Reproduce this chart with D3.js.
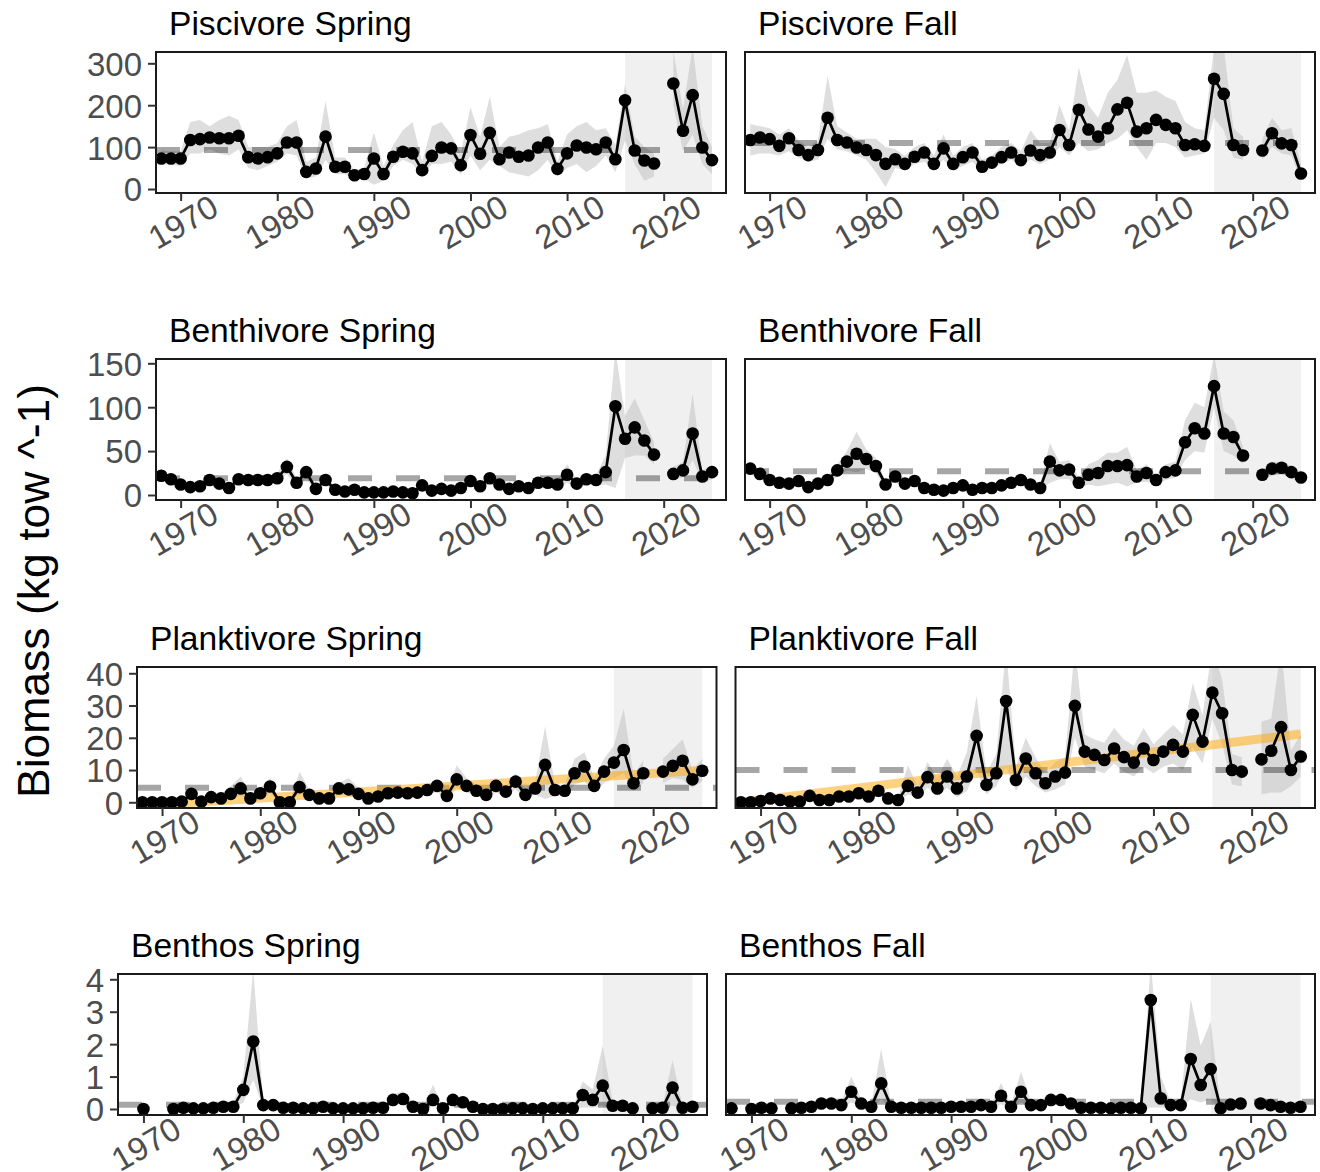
<!DOCTYPE html>
<html lang="en">
<head>
<meta charset="utf-8">
<title>Biomass by feeding guild</title>
<style>
  body { margin: 0; background: #fff; }
  svg { display: block; font-family: "Liberation Sans", Arial, sans-serif; }
  .ttl { font-size: 33.6px; fill: #000; }
  .ytitle { font-size: 44.5px; fill: #000; }
  .axis text { font-size: 33px; fill: #4d4d4d; }
  .axis line { stroke: #333; stroke-width: 2; }
  .axis path { display: none; }
</style>
</head>
<body>
<svg width="1320" height="1172"></svg>
<script src="https://cdn.jsdelivr.net/npm/d3@7/dist/d3.min.js"></script>
<script>

// survey years (2020 had no survey)
var years = [1968,1969,1970,1971,1972,1973,1974,1975,1976,1977,
             1978,1979,1980,1981,1982,1983,1984,1985,1986,1987,
             1988,1989,1990,1991,1992,1993,1994,1995,1996,1997,
             1998,1999,2000,2001,2002,2003,2004,2005,2006,2007,
             2008,2009,2010,2011,2012,2013,2014,2015,2016,2017,
             2018,2019,2020,2021,2022,2023,2024,2025];

var xTicks = [1970, 1980, 1990, 2000, 2010, 2020];
var shadeYears = [2016, 2025];

// Piscivore
var pisSpr   = [73,73,73,117,119,123,121,121,127,76, 73,76,85,111,111,41,49,125,53,53, 33,36,73,36,77,89,85,45,79,99, 97,57,129,84,134,71,87,77,80,99, 111,48,85,104,99,95,111,71,212,92, 68,61,null,252,139,224,99,69];
var pisSprLo = [58,58,55,85,85,95,85,80,95,50, 45,55,65,85,80,25,30,70,35,35, 25,25,10,20,55,70,60,30,60,60, 65,35,80,45,70,55,40,35,30,45, 70,30,50,60,40,55,80,40,115,60, 20,30,null,200,90,130,60,35];
var pisSprHi = [92,90,90,160,165,150,165,175,165,100, 100,100,110,150,165,65,75,210,75,75, 45,50,135,55,105,140,160,65,150,160, 130,85,195,125,220,100,125,130,140,145, 155,65,130,150,160,140,145,105,250,125, 100,85,null,330,190,340,150,100];
var pisFall   = [117,123,119,103,121,93,81,93,170,117, 111,99,93,81,60,71,60,77,87,60, 97,60,76,87,53,63,76,87,69,92, 81,87,141,105,189,142,125,145,190,206, 137,145,165,153,145,105,107,103,263,227, 105,93,null,92,133,109,105,37];
var pisFallLo = [80,85,85,80,90,75,65,70,120,95, 90,80,70,40,5,50,45,60,65,50, 70,45,55,65,40,50,60,70,55,70, 60,70,100,80,110,90,95,110,120,140, 100,70,110,110,100,75,80,85,170,140, 75,70,null,70,100,85,80,20];
var pisFallHi = [155,150,145,130,145,115,100,115,270,150, 135,120,120,120,100,95,80,100,110,80, 130,80,100,110,70,80,100,110,90,140, 110,110,200,140,290,200,170,230,260,320, 230,230,235,220,210,160,145,140,340,340, 145,125,null,120,170,140,145,60];

// Benthivore
var benSpr   = [22,18,12,9,10,17,13,8,18,17, 17,17,19,32,14,26,7,17,6,4, 6,3,3,3,4,3,2,11,5,7, 5,8,16,10,19,12,7,10,8,14, 14,12,23,13,18,17,26,101,64,77, 62,46,null,24,28,70,21,26];
var benSprLo = [17,14,8,6,7,12,9,5,13,12, 12,12,14,24,9,19,4,12,3,2, 3,1,1,1,2,1,1,7,3,4, 3,5,11,6,13,8,4,6,5,9, 9,7,14,8,12,11,12,8,42,45, 45,35,null,17,20,40,15,18];
var benSprHi = [27,22,16,12,13,22,17,11,23,22, 22,22,25,42,19,34,10,22,9,6, 9,5,5,5,6,5,4,15,7,10, 7,11,21,14,25,16,10,14,11,19, 19,17,35,18,24,23,45,165,90,110, 85,60,null,32,38,115,28,34];
var benFall   = [30,24,17,14,13,16,9,13,17,28, 38,47,41,33,12,21,13,16,8,6, 5,8,11,6,8,8,11,14,17,12, 8,38,28,29,14,23,25,33,33,34, 21,25,17,26,28,60,76,70,124,70, 66,45,null,23,30,31,26,20];
var benFallLo = [24,19,13,10,9,12,6,9,13,21, 28,26,30,25,8,16,9,12,5,3, 3,5,7,3,5,5,7,10,12,8, 5,14,18,18,8,12,10,12,14,10, 14,15,12,17,20,40,50,48,100,50, 45,35,null,17,22,24,19,14];
var benFallHi = [36,29,21,18,17,21,12,17,22,35, 50,72,52,42,16,27,17,21,11,9, 7,11,15,9,11,11,15,19,22,16, 11,59,38,40,20,35,40,48,48,55, 28,35,23,35,38,85,105,100,160,95, 85,55,null,29,38,38,33,26];

// Planktivore
var plaSpr   = [0,0,0,0,0.2,2.6,0.2,1.6,1.2,2.6, 4.3,1.2,2.8,4.9,0,0,4.7,2.3,1.2,1.2, 4.3,4.0,2.6,1.2,1.8,2.8,3.0,2.8,3.0,3.8, 5.1,2.0,7.1,5.1,3.6,2.3,5.1,3.3,6.4,2.3, 4.3,11.6,3.8,3.6,9.0,11.1,5.1,9.5,12.3,16.2, 5.9,9.0,null,9.5,11.3,12.9,7.1,9.8];
var plaSprLo = [0,0,0,0,0,1.0,0,0.6,0.4,1.2, 2.0,0.4,1.4,2.8,0,0,2.5,1.0,0.4,0.4, 2.5,2.2,1.2,0.4,0.8,1.6,1.8,1.6,1.8,2.2, 3.2,0.8,4.5,3.0,2.0,1.0,3.0,1.8,4.0,1.0, 2.4,1.0,2.0,2.0,5.5,6.5,3.0,6.0,7.5,9.0, 3.5,6.0,null,6.0,7.5,7.0,4.5,6.5];
var plaSprHi = [0.3,0.3,0.3,0.3,0.6,4.5,0.6,3.0,2.5,5.0, 8.0,2.5,4.5,7.5,0.3,0.3,9.5,4.0,2.5,2.5, 6.0,7.5,4.5,2.5,3.0,4.5,4.5,4.5,4.5,5.5, 7.0,3.5,11.5,7.5,5.5,4.0,7.5,5.0,9.0,4.0, 6.5,23.5,5.5,5.5,13.5,15.5,7.5,13.5,17.5,29.0, 8.5,13.0,null,13.5,16.5,19.5,10.0,13.5];
var plaFall   = [0,0,0.4,1.2,0.7,0.2,0.2,2.0,0.7,0.7, 1.8,1.8,2.8,1.8,3.6,1.2,0.7,5.1,3.0,7.8, 4.3,8.0,4.3,8.0,20.6,5.4,9.0,31.4,6.9,13.6, 9.0,5.9,8.0,9.2,29.9,15.7,14.7,13.1,16.7,14.0, 12.3,16.7,13.1,15.7,17.8,15.7,27.1,18.8,34.0,27.6, 10.0,9.5,null,13.3,16.0,23.3,10.0,14.2];
var plaFallLo = [0,0,0,0.4,0.2,0,0,1.0,0.2,0.2, 0.8,0.8,1.5,0.8,2.0,0.4,0.2,2.5,1.5,4.5, 2.0,4.5,1.5,3.5,10.0,2.5,5.0,11.0,3.5,8.0, 5.0,3.0,4.0,5.5,20.0,11.0,10.0,9.0,12.0,9.5, 8.0,11.0,9.0,11.0,12.0,10.0,17.0,12.0,26.0,18.0, 5.5,5.0,null,2.5,3.0,3.0,5.0,8.0];
var plaFallHi = [0.3,0.3,1.0,2.2,1.4,0.6,0.6,3.5,1.4,1.4, 3.0,3.0,4.5,3.0,5.5,2.2,1.4,11.5,5.0,12.5, 7.5,13.5,8.0,15.5,33.0,9.0,15.0,48.0,11.0,20.0, 14.0,9.0,12.5,14.0,48.0,21.0,19.5,18.5,23.0,19.5, 17.5,23.0,18.0,21.0,24.0,21.0,37.0,27.0,48.0,38.0, 15.0,14.0,null,25.0,26.0,48.0,16.0,21.0];

// Benthos
var bthSpr   = [null,null,0,null,null,0,0.04,0.02,0.02,0.04, 0.07,0.07,0.59,2.08,0.12,0.12,0.04,0.04,0.02,0.02, 0.07,0.02,0.02,0.02,0.02,0.04,0.04,0.28,0.31,0.07, 0,0.28,0.02,0.28,0.21,0.07,0,0,0,0.02, 0.02,0,0.02,0.02,0.02,0.02,0.43,0.28,0.72,0.1, 0.1,0.02,null,0.02,0.04,0.66,0.04,0.07];
var bthSprLo = [null,null,0,null,null,0,0,0,0,0, 0,0,0.2,0.9,0.03,0.03,0,0,0,0, 0,0,0,0,0,0,0,0.15,0.15,0, 0,0.1,0,0.15,0.1,0,0,0,0,0, 0,0,0,0,0,0,0.05,0.05,0.1,0.02, 0.02,0,null,0,0,0.1,0,0.02];
var bthSprHi = [null,null,0.05,null,null,0.05,0.1,0.06,0.06,0.1, 0.2,0.2,1.0,4.3,0.25,0.25,0.1,0.1,0.06,0.06, 0.15,0.06,0.06,0.06,0.06,0.1,0.1,0.45,0.55,0.2, 0.05,0.75,0.06,0.45,0.35,0.15,0.03,0.03,0.03,0.06, 0.06,0.03,0.06,0.06,0.06,0.06,0.85,0.6,1.95,0.25, 0.25,0.06,null,0.06,0.1,1.5,0.1,0.15];
var bthFall   = [0.02,null,0,0.04,0.02,null,0.02,0.04,0.07,0.17, 0.17,0.12,0.53,0.17,0.07,0.79,0.07,0.04,0.04,0.04, 0.04,0.04,0.07,0.07,0.07,0.12,0.07,0.41,0.07,0.53, 0.12,0.12,0.28,0.28,0.17,0.04,0.04,0.04,0.02,0.04, 0.04,0.02,3.36,0.33,0.12,0.12,1.54,0.74,1.23,0.02, 0.14,0.17,null,0.17,0.12,0.07,0.04,0.07];
var bthFallLo = [0,null,0,0,0,null,0,0,0,0.08, 0.08,0.05,0.2,0.08,0.02,0.3,0.02,0,0,0, 0,0,0.02,0.02,0.02,0.05,0.02,0.15,0.02,0.2, 0.05,0.05,0.15,0.15,0.08,0,0,0,0,0, 0,0,0.05,0.05,0.03,0.03,0.3,0.2,0.3,0, 0.05,0.07,null,0.07,0.05,0.02,0,0.02];
var bthFallHi = [0.05,null,0.03,0.1,0.06,null,0.06,0.1,0.15,0.3, 0.3,0.22,1.0,0.3,0.15,1.85,0.15,0.1,0.1,0.1, 0.1,0.1,0.15,0.15,0.15,0.22,0.15,0.8,0.15,1.15, 0.22,0.22,0.42,0.42,0.3,0.1,0.1,0.1,0.06,0.1, 0.1,0.06,4.5,1.0,0.22,0.22,3.4,1.95,2.7,0.06, 0.25,0.3,null,0.3,0.22,0.15,0.1,0.15];

// long-term means (dashed) and significant trends (orange)
var guildMeans = [93, 110, 19, 27, 4.5, 10, 0.13, 0.22];
var trendYears = [1968, 2025];
var plaSprTrend = [-1.0, 9.9];
var plaFallTrend = [0.0, 21.2];

var yTicks = [[0, 100, 200, 300], [0, 50, 100, 150], [0, 10, 20, 30, 40], [0, 1, 2, 3, 4]];

// layout
var rowLeft = [156, 156, 137, 118],
    rowTop = [52, 359, 667, 974],
    panelH = 141, rightEdge = 1315, gap = 19;
var yDomains = [[-9.5, 327], [-5.7, 154.9], [-1.77, 41.95], [-0.185, 4.163]];
var xDomain = [1967.45, 2026.45];

var panels = [
  {row: 0, col: 0, title: "Piscivore Spring",   v: pisSpr,  lo: pisSprLo,  hi: pisSprHi},
  {row: 0, col: 1, title: "Piscivore Fall",     v: pisFall, lo: pisFallLo, hi: pisFallHi},
  {row: 1, col: 0, title: "Benthivore Spring",  v: benSpr,  lo: benSprLo,  hi: benSprHi},
  {row: 1, col: 1, title: "Benthivore Fall",    v: benFall, lo: benFallLo, hi: benFallHi},
  {row: 2, col: 0, title: "Planktivore Spring", v: plaSpr,  lo: plaSprLo,  hi: plaSprHi, trend: plaSprTrend},
  {row: 2, col: 1, title: "Planktivore Fall",   v: plaFall, lo: plaFallLo, hi: plaFallHi, trend: plaFallTrend},
  {row: 3, col: 0, title: "Benthos Spring",     v: bthSpr,  lo: bthSprLo,  hi: bthSprHi},
  {row: 3, col: 1, title: "Benthos Fall",       v: bthFall, lo: bthFallLo, hi: bthFallHi}
];

var svg = d3.select("svg");

svg.append("text")
    .attr("class", "ytitle")
    .attr("transform", "translate(33,591) rotate(-90)")
    .attr("text-anchor", "middle")
    .attr("dominant-baseline", "central")
    .text("Biomass (kg tow ^-1)");

panels.forEach(function(p, i) {
  var w = (rightEdge - rowLeft[p.row] - gap) / 2;
  var x0 = p.col === 0 ? rowLeft[p.row] : rowLeft[p.row] + w + gap;
  var y0 = rowTop[p.row];

  var x = d3.scaleLinear().domain(xDomain).range([0, w]);
  var y = d3.scaleLinear().domain(yDomains[p.row]).range([panelH, 0]);

  var g = svg.append("g").attr("transform", "translate(" + x0 + "," + y0 + ")");

  g.append("clipPath").attr("id", "clip" + i)
    .append("rect").attr("width", w).attr("height", panelH);

  var data = years.map(function(yr, k) {
    return {yr: yr, v: p.v[k], lo: p.lo[k], hi: p.hi[k]};
  });

  var body = g.append("g").attr("clip-path", "url(#clip" + i + ")");

  // last ten years shading
  body.append("rect")
      .attr("x", x(shadeYears[0]))
      .attr("width", x(shadeYears[1]) - x(shadeYears[0]))
      .attr("y", 0).attr("height", panelH)
      .attr("fill", "#d3d3d3").attr("fill-opacity", 0.35);

  var area = d3.area()
      .defined(function(d) { return d.lo != null; })
      .x(function(d) { return x(d.yr); })
      .y0(function(d) { return y(d.lo); })
      .y1(function(d) { return y(d.hi); });

  body.append("path")
      .attr("d", area(data))
      .attr("fill", "#bebebe").attr("fill-opacity", 0.5);

  body.append("line")
      .attr("x1", 0).attr("x2", w)
      .attr("y1", y(guildMeans[i])).attr("y2", y(guildMeans[i]))
      .attr("stroke", "#000").attr("stroke-opacity", 0.35)
      .attr("stroke-width", 6).attr("stroke-dasharray", "24,24");

  if (p.trend) {
    body.append("path")
        .attr("d", d3.line()(trendYears.map(function(yr, k) { return [x(yr), y(p.trend[k])]; })))
        .attr("stroke", "orange").attr("stroke-opacity", 0.5)
        .attr("stroke-width", 9).attr("fill", "none");
  }

  var line = d3.line()
      .defined(function(d) { return d.v != null; })
      .x(function(d) { return x(d.yr); })
      .y(function(d) { return y(d.v); });

  body.append("path")
      .attr("d", line(data))
      .attr("fill", "none").attr("stroke", "#000").attr("stroke-width", 2.7);

  body.selectAll("circle")
    .data(data.filter(function(d) { return d.v != null; }))
    .enter().append("circle")
      .attr("cx", function(d) { return x(d.yr); })
      .attr("cy", function(d) { return y(d.v); })
      .attr("r", 6.3)
      .attr("fill", "#000");

  g.append("rect")
      .attr("width", w).attr("height", panelH)
      .attr("fill", "none").attr("stroke", "#1a1a1a").attr("stroke-width", 2);

  // axes
  var xa = g.append("g").attr("class", "axis")
      .attr("transform", "translate(0," + panelH + ")")
      .call(d3.axisBottom(x).tickValues(xTicks).tickFormat(d3.format("d")).tickSize(8).tickSizeOuter(0));
  xa.selectAll("text")
      .attr("y", null).attr("dy", null)
      .attr("text-anchor", "middle")
      .attr("dominant-baseline", "central")
      .attr("transform", "translate(2,29) rotate(-30)");

  if (p.col === 0) {
    g.append("g").attr("class", "axis")
      .call(d3.axisLeft(y).tickValues(yTicks[p.row]).tickFormat(d3.format("d"))
              .tickSize(8).tickPadding(6).tickSizeOuter(0))
      .selectAll("text").attr("dy", "0.36em");
  }

  svg.append("text")
      .attr("class", "ttl")
      .attr("x", x0 + 13).attr("y", y0 - 17)
      .text(p.title);
});

</script>
</body>
</html>
